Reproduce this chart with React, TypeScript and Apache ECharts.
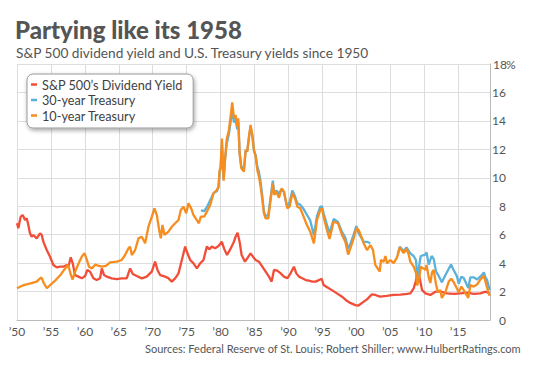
import React, { useEffect, useRef } from "react";
import * as echarts from "echarts";

const seriesNames = ["S&P 500\u2019s Dividend Yield", "30-year Treasury", "10-year Treasury"];

const divYield: [number, number][] = [
  [1950.0, 6.8], [1950.2, 6.45], [1950.54, 7.27], [1950.84, 7.38], [1951.18, 7.03], [1951.43, 7.15],
  [1951.67, 6.68], [1951.92, 6.09], [1952.16, 5.86], [1952.41, 5.98], [1952.9, 5.74], [1953.39, 6.09],
  [1953.64, 5.98], [1953.88, 5.51], [1954.38, 4.92], [1954.87, 4.45], [1955.36, 3.87], [1955.85, 3.7],
  [1956.34, 3.75], [1956.83, 3.75], [1957.33, 3.87], [1957.57, 3.75], [1957.92, 4.41], [1958.21, 3.98],
  [1958.55, 3.16], [1959.05, 3.05], [1959.54, 2.93], [1960.03, 3.09], [1960.37, 3.52], [1960.77, 3.4],
  [1961.26, 2.93], [1961.75, 2.81], [1962.24, 2.93], [1962.49, 3.63], [1962.83, 3.16], [1963.23, 3.05],
  [1963.96, 2.93], [1964.7, 2.88], [1965.44, 2.93], [1966.17, 2.93], [1966.67, 3.63], [1967.06, 3.23],
  [1967.65, 3.09], [1968.39, 2.93], [1969.12, 3.05], [1969.86, 3.4], [1970.35, 4.1], [1970.7, 3.52],
  [1971.09, 3.16], [1971.83, 3.05], [1972.32, 2.93], [1972.81, 2.7], [1973.3, 2.93], [1973.8, 3.28],
  [1974.29, 4.22], [1974.78, 5.16], [1975.12, 4.69], [1975.52, 4.22], [1976.01, 3.98], [1976.5, 3.63],
  [1976.99, 3.98], [1977.48, 4.22], [1977.97, 5.16], [1978.37, 4.97], [1978.71, 5.16], [1979.2, 5.04],
  [1979.7, 5.2], [1980.19, 5.5], [1980.53, 5.0], [1980.95, 4.57], [1981.45, 5.0], [1981.97, 5.51],
  [1982.21, 5.86], [1982.5, 6.14], [1982.8, 5.51], [1983.1, 4.57], [1983.59, 4.1], [1983.93, 4.34],
  [1984.42, 4.69], [1984.77, 4.45], [1985.16, 4.22], [1985.65, 4.1], [1986.15, 3.75], [1986.64, 3.4],
  [1987.13, 3.05], [1987.52, 2.7], [1987.87, 3.52], [1988.36, 3.47], [1988.85, 3.28], [1989.34, 3.05],
  [1989.83, 2.93], [1990.31, 3.28], [1990.81, 3.75], [1991.16, 3.28], [1991.55, 3.05], [1992.04, 2.93],
  [1992.54, 2.81], [1993.03, 2.77], [1993.52, 2.7], [1994.01, 2.7], [1994.9, 2.9], [1995.18, 2.46],
  [1995.7, 2.3], [1996.4, 2.1], [1997.15, 1.87], [1997.9, 1.64], [1998.6, 1.35], [1999.1, 1.2],
  [1999.85, 1.05], [2000.34, 1.02], [2000.84, 1.2], [2001.57, 1.45], [2002.3, 1.8], [2002.8, 1.76],
  [2003.5, 1.64], [2004.5, 1.69], [2005.5, 1.76], [2006.5, 1.78], [2007.5, 1.83], [2007.96, 1.87],
  [2008.46, 2.23], [2008.75, 2.7], [2009.1, 3.52], [2009.34, 2.93], [2009.69, 2.11], [2010.18, 1.87],
  [2010.91, 1.76], [2011.65, 1.99], [2012.39, 1.99], [2013.37, 1.87], [2014.36, 1.83], [2015.34, 1.87],
  [2016.32, 1.92], [2017.31, 1.83], [2018.29, 1.87], [2019.03, 1.99], [2019.67, 1.87],
];

const treasury30: [number, number | null][] = [
  [1977.1, 7.7], [1977.6, 7.65], [1978.0, 7.95], [1978.5, 8.45], [1979.0, 8.95], [1979.45, 9.05],
  [1979.7, 9.35], [1979.85, 10.4], [1980.0, 10.6], [1980.2, 12.3], [1980.45, 9.9], [1980.65, 11.3],
  [1980.9, 12.4], [1981.23, 13.1], [1981.47, 13.9], [1981.72, 14.8], [1981.97, 13.9], [1982.21, 14.1],
  [1982.46, 13.4], [1982.61, 13.9], [1982.8, 11.8], [1983.05, 10.8], [1983.44, 10.6], [1983.69, 11.9],
  [1983.93, 11.9], [1984.18, 12.8], [1984.42, 13.6], [1984.67, 13.0], [1984.92, 11.9], [1985.16, 11.6],
  [1985.41, 10.8], [1985.65, 10.4], [1985.9, 9.7], [1986.15, 8.7], [1986.39, 7.6], [1986.64, 7.3],
  [1987.03, 7.4], [1987.37, 8.6], [1987.7, 9.8], [1987.9, 8.9], [1988.21, 9.1], [1988.6, 8.9],
  [1989.0, 9.2], [1989.34, 9.0], [1989.59, 8.4], [1989.83, 7.95], [1990.18, 8.3], [1990.57, 9.1],
  [1990.96, 8.7], [1991.31, 8.2], [1991.74, 8.1], [1992.23, 7.8], [1992.72, 7.4], [1993.21, 7.0],
  [1993.75, 5.95], [1994.2, 7.3], [1994.69, 7.95], [1994.94, 8.0], [1995.18, 7.5], [1995.67, 6.7],
  [1996.05, 6.1], [1996.66, 7.1], [1997.3, 6.9], [1997.89, 6.2], [1998.38, 5.8], [1998.8, 5.0],
  [1999.21, 5.45], [1999.61, 6.0], [2000.0, 6.6], [2000.34, 6.1], [2000.84, 5.7], [2001.08, 5.5],
  [2001.57, 5.5], [2002.07, 5.4], [2002.2, null],
  [2006.1, 4.55], [2006.4, 5.15], [2006.98, 4.85], [2007.4, 5.1], [2007.96, 4.69], [2008.45, 4.5],
  [2008.8, 4.2], [2008.98, 2.95], [2009.29, 3.9], [2009.5, 4.5], [2010.17, 4.6], [2010.35, 4.75],
  [2010.67, 3.9], [2011.1, 4.5], [2011.4, 4.3], [2011.75, 3.4], [2012.14, 3.1], [2012.6, 2.65],
  [2013.12, 3.15], [2013.62, 3.6], [2013.96, 3.9], [2014.36, 3.5], [2014.85, 3.05], [2015.09, 2.55],
  [2015.48, 3.05], [2015.83, 2.95], [2016.5, 2.25], [2016.81, 3.0], [2017.3, 3.0], [2017.8, 2.85],
  [2018.39, 3.1], [2018.8, 3.35], [2019.03, 3.0], [2019.27, 2.8], [2019.67, 2.1],
];

const treasury10: [number, number][] = [
  [1950.0, 2.23], [1951.0, 2.46], [1952.0, 2.58], [1952.9, 2.7], [1953.4, 2.93], [1953.6, 3.0],
  [1953.95, 2.6], [1954.4, 2.23], [1954.9, 2.46], [1955.7, 2.81], [1956.4, 3.16], [1956.93, 3.52],
  [1957.5, 3.87], [1957.75, 3.5], [1957.92, 3.2], [1958.2, 2.85], [1958.6, 3.45], [1959.1, 4.0],
  [1959.6, 4.5], [1959.95, 4.69], [1960.3, 4.22], [1960.6, 3.75], [1961.05, 3.63], [1961.55, 3.9],
  [1962.05, 3.8], [1962.55, 3.75], [1963.1, 3.8], [1963.72, 4.05], [1964.7, 4.1], [1965.44, 4.22],
  [1965.93, 4.57], [1966.42, 5.04], [1966.67, 5.16], [1966.92, 4.57], [1967.41, 4.92], [1967.9, 5.74],
  [1968.39, 5.86], [1968.88, 5.39], [1969.37, 6.56], [1969.87, 7.27], [1970.26, 7.85], [1970.6, 7.38],
  [1970.95, 6.33], [1971.19, 5.74], [1971.44, 6.68], [1971.73, 5.98], [1972.32, 6.21], [1972.82, 6.56],
  [1973.31, 6.8], [1973.8, 7.03], [1974.14, 7.74], [1974.54, 7.97], [1974.93, 7.5], [1975.27, 8.2],
  [1975.67, 7.85], [1976.01, 7.38], [1976.5, 7.03], [1976.8, 6.8], [1977.09, 7.27], [1977.58, 7.27],
  [1977.98, 7.62], [1978.47, 8.09], [1978.96, 8.91], [1979.45, 9.14], [1979.7, 9.38], [1979.85, 10.5],
  [1980.0, 10.8], [1980.2, 12.75], [1980.45, 9.8], [1980.65, 11.2], [1980.9, 12.7], [1981.23, 13.36],
  [1981.47, 14.3], [1981.72, 15.3], [1981.97, 14.18], [1982.21, 14.42], [1982.46, 13.6], [1982.61, 14.18],
  [1982.8, 11.72], [1983.05, 10.67], [1983.44, 10.43], [1983.69, 11.95], [1983.93, 11.84], [1984.18, 12.89],
  [1984.42, 13.71], [1984.67, 13.01], [1984.92, 11.95], [1985.16, 11.49], [1985.41, 10.55], [1985.65, 10.08],
  [1985.9, 9.38], [1986.15, 8.44], [1986.39, 7.5], [1986.64, 7.15], [1987.03, 7.15], [1987.37, 8.44],
  [1987.7, 9.61], [1987.9, 8.79], [1988.21, 9.02], [1988.6, 8.6], [1989.0, 9.26], [1989.34, 9.02],
  [1989.59, 8.44], [1989.83, 7.85], [1990.18, 7.97], [1990.57, 8.91], [1990.96, 8.56], [1991.31, 7.97],
  [1991.74, 7.85], [1992.23, 7.27], [1992.72, 6.68], [1993.21, 6.21], [1993.75, 5.39], [1994.2, 7.03],
  [1994.69, 7.74], [1994.94, 7.85], [1995.18, 7.27], [1995.67, 6.33], [1996.05, 5.7], [1996.66, 6.92],
  [1997.3, 6.8], [1997.89, 5.98], [1998.38, 5.51], [1998.8, 4.6], [1999.21, 5.16], [1999.61, 5.74],
  [2000.0, 6.45], [2000.34, 6.33], [2000.84, 5.74], [2001.08, 5.39], [2001.57, 4.92], [2002.07, 5.27],
  [2002.46, 4.92], [2002.8, 3.87], [2003.45, 3.4], [2003.64, 4.22], [2004.03, 4.1], [2004.3, 4.5],
  [2004.52, 3.98], [2005.01, 4.22], [2005.51, 4.0], [2006.0, 4.4], [2006.39, 5.1], [2006.98, 4.7],
  [2007.4, 5.04], [2007.72, 4.6], [2007.96, 4.1], [2008.45, 3.75], [2008.8, 3.3], [2008.98, 2.42],
  [2009.29, 3.0], [2009.5, 3.75], [2010.17, 3.52], [2010.35, 3.87], [2010.67, 3.0], [2010.91, 2.6],
  [2011.16, 3.35], [2011.4, 3.52], [2011.75, 2.5], [2012.04, 1.95], [2012.39, 2.11], [2012.6, 1.55],
  [2013.12, 1.95], [2013.62, 2.7], [2014.0, 2.9], [2014.36, 2.65], [2014.85, 2.2], [2015.09, 1.95],
  [2015.48, 2.35], [2015.83, 2.1], [2016.5, 1.55], [2016.81, 2.45], [2017.3, 2.35], [2017.8, 2.5],
  [2018.29, 2.85], [2018.8, 3.1], [2019.03, 2.7], [2019.52, 1.85], [2019.67, 1.7],
];

const RED = "#f24d38";
const BLUE = "#5ab2da";
const ORANGE = "#f78d1f";
const FONT = "Lato";

export default function App() {
  const ref = useRef<HTMLDivElement>(null);
  useEffect(() => {
    const chart = echarts.init(ref.current!, null, { renderer: "svg" });
    chart.setOption({
      animation: false,
      backgroundColor: "#fff",
      textStyle: { fontFamily: FONT },
      title: [
        {
          text: "Partying like its 1958",
          left: 15,
          top: 17,
          padding: 0,
          textStyle: { fontSize: 24, fontWeight: 900, color: "#555", fontFamily: FONT },
        },
        {
          text: "S&P 500 dividend yield and U.S. Treasury yields since 1950",
          left: 16,
          top: 45,
          padding: 0,
          textStyle: { fontSize: 13.7, fontWeight: "normal", color: "#555", fontFamily: FONT },
        },
        {
          text: "Sources: Federal Reserve of St. Louis; Robert Shiller; www.HulbertRatings.com",
          right: 18,
          top: 343,
          padding: 0,
          textStyle: { fontSize: 11, fontWeight: "normal", color: "#555", fontFamily: FONT },
        },
      ],
      legend: {
        orient: "vertical",
        left: 27,
        top: 74,
        padding: [4, 10, 6, 4],
        itemGap: 2.5,
        itemWidth: 6,
        itemHeight: 2.5,
        icon: "rect",
        backgroundColor: "#fff",
        borderColor: "#999",
        borderWidth: 1,
        borderRadius: 6,
        shadowBlur: 4,
        shadowColor: "rgba(0,0,0,0.35)",
        shadowOffsetX: 1,
        shadowOffsetY: 2,
        textStyle: { fontSize: 12.7, color: "#3f3f3f", fontFamily: FONT },
        data: seriesNames,
      },
      grid: { left: 17, right: 49, top: 64, bottom: 52 },
      xAxis: {
        type: "value",
        min: 1950,
        max: 2019.7,
        interval: 5,
        axisLine: { show: true, lineStyle: { color: "#bbb" } },
        axisTick: { show: false },
        splitLine: { show: true, lineStyle: { color: "#ddd" } },
        axisLabel: {
          color: "#555",
          fontSize: 12,
          margin: 5,
          fontFamily: FONT,
          formatter: (v: number) => (v % 5 === 0 ? "\u2019" + String(v).slice(2) : ""),
        },
      },
      yAxis: {
        type: "value",
        position: "right",
        min: 0,
        max: 18,
        interval: 2,
        axisLine: { show: true, lineStyle: { color: "#bbb" } },
        axisTick: { show: false },
        splitLine: { show: true, lineStyle: { color: "#ddd" } },
        axisLabel: {
          color: "#555",
          fontSize: 12,
          margin: 4,
          align: "left",
          fontFamily: FONT,
          formatter: (v: number) => (v === 18 ? "{n|18}{p|%}" : `{n|${v}}`),
          rich: {
            n: { width: 12, align: "right", fontSize: 12, color: "#555", fontFamily: FONT },
            p: { fontSize: 12, color: "#555", fontFamily: FONT },
          },
        },
      },
      series: [
        {
          name: seriesNames[0],
          type: "line",
          data: divYield,
          showSymbol: false,
          symbol: "none",
          lineStyle: { width: 2.3, color: RED },
          itemStyle: { color: RED },
          z: 2,
        },
        {
          name: seriesNames[1],
          type: "line",
          data: treasury30,
          showSymbol: false,
          symbol: "none",
          connectNulls: false,
          lineStyle: { width: 2.3, color: BLUE },
          itemStyle: { color: BLUE },
          z: 3,
        },
        {
          name: seriesNames[2],
          type: "line",
          data: treasury10,
          showSymbol: false,
          symbol: "none",
          lineStyle: { width: 2.3, color: ORANGE },
          itemStyle: { color: ORANGE },
          z: 4,
        },
      ],
    });
    return () => chart.dispose();
  }, []);
  return <div ref={ref} style={{ position: "absolute", left: 0, top: 0, width: 539, height: 372 }} />;
}
